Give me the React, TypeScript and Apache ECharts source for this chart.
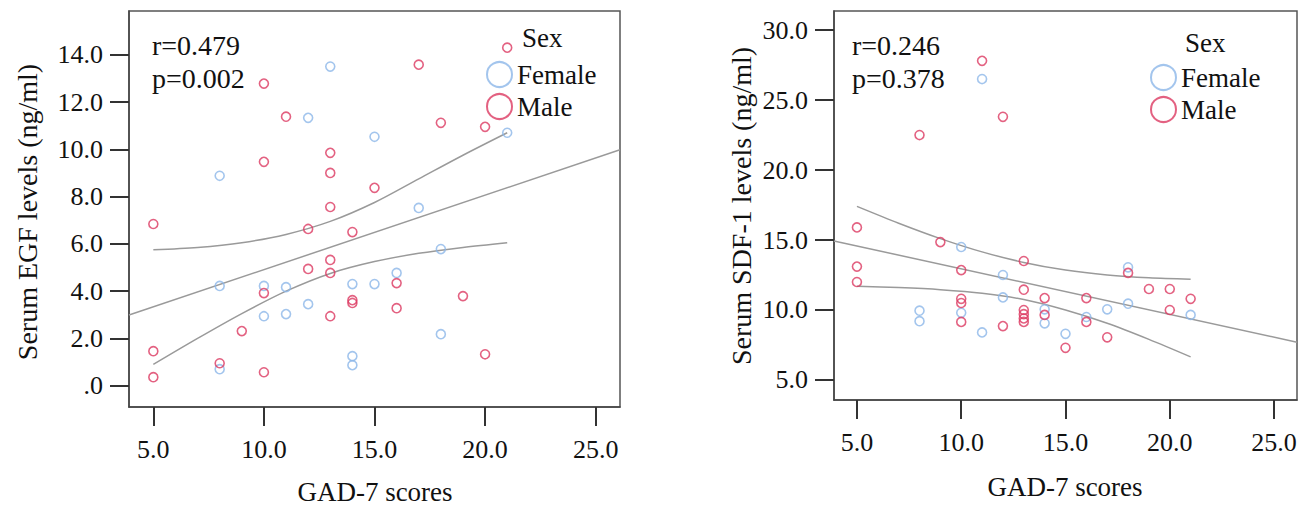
import React, { useEffect, useRef } from "react";
import * as echarts from "echarts";

// ---------- data ----------
const xTicks = [5, 10, 15, 20, 25];
const egfTicks = [0, 2, 4, 6, 8, 10, 12, 14];
const sdfTicks = [5, 10, 15, 20, 25, 30];

const egfFemale = [
  [8, 8.88], [8, 4.22], [8, 0.7], [10, 4.22], [10, 2.94], [11, 4.17], [11, 3.03],
  [12, 11.33], [12, 3.45], [13, 13.5], [14, 4.3], [14, 1.25], [14, 0.87],
  [15, 10.53], [15, 4.3], [16, 4.77], [17, 7.52], [18, 5.78], [18, 2.18], [21, 10.7],
];
const egfMale = [
  [5, 6.84], [5, 1.46], [5, 0.36], [8, 0.95], [9, 2.31], [10, 12.78], [10, 9.47],
  [10, 3.92], [10, 0.57], [11, 11.38], [12, 6.63], [12, 4.94], [13, 9.85], [13, 9.0],
  [13, 7.56], [13, 5.32], [13, 4.77], [13, 2.94], [14, 6.5], [14, 3.62], [14, 3.5],
  [15, 8.37], [16, 4.34], [16, 3.28], [17, 13.58], [18, 11.12], [19, 3.79],
  [20, 10.95], [20, 1.33], [21, 14.3],
];
const egfFit = [[3.9, 2.99], [26.1, 9.98]];
const egfUpper = [[5, 5.75], [7, 5.85], [9, 6.05], [11, 6.4], [13, 6.95], [15, 7.75], [17, 8.75], [19, 9.75], [21, 10.7]];
const egfLower = [[5, 0.9], [7, 2.0], [9, 3.05], [11, 4.0], [13, 4.75], [15, 5.25], [17, 5.6], [19, 5.85], [21, 6.05]];

const sdfFemale = [
  [8, 9.95], [8, 9.2], [10, 14.5], [10, 9.8], [11, 26.5], [11, 8.4], [12, 12.5],
  [12, 10.9], [14, 10.05], [14, 9.05], [15, 8.3], [16, 9.5], [17, 10.05], [18, 13.05],
  [18, 10.45], [21, 9.65],
];
const sdfMale = [
  [5, 15.9], [5, 13.1], [5, 12.0], [8, 22.5], [9, 14.85], [10, 12.85], [10, 10.8],
  [10, 10.5], [10, 9.15], [11, 27.8], [12, 23.8], [12, 8.85], [13, 13.5], [13, 11.45],
  [13, 10.0], [13, 9.7], [13, 9.4], [13, 9.15], [14, 10.85], [14, 9.65], [15, 7.3],
  [16, 10.85], [16, 9.15], [17, 8.05], [18, 12.65], [19, 11.5], [20, 11.5], [20, 10.0],
  [21, 10.8],
];
const sdfFit = [[3.9, 14.93], [26.1, 7.7]];
const sdfUpper = [[5, 17.4], [7, 16.2], [9, 15.1], [11, 14.15], [13, 13.4], [15, 12.85], [17, 12.5], [19, 12.3], [21, 12.2]];
const sdfLower = [[5, 11.7], [7, 11.6], [9, 11.45], [11, 11.2], [13, 10.75], [15, 10.0], [17, 9.05], [19, 7.9], [21, 6.65]];

const stats = [
  ["r=0.479", "p=0.002"],
  ["r=0.246", "p=0.378"],
];
const yTitles = ["Serum EGF levels (ng/ml)", "Serum SDF-1 levels (ng/ml)"];
const xTitle = "GAD-7 scores";
const legendTitle = "Sex";
const sexes = ["Female", "Male"];

// ---------- style ----------
const FONT = "'Liberation Serif', 'Times New Roman', serif";
const BLUE = "#8cb6e9";
const RED = "#dc3a62";
const LINE = "#9a9a9a";

function axisX(gridIndex: number, margin: number) {
  return {
    gridIndex,
    type: "value",
    min: 3.9,
    max: 26.1,
    splitLine: { show: false },
    axisLine: { onZero: false, lineStyle: { color: "#444", width: 1.5 } },
    axisTick: { customValues: xTicks, length: 19, lineStyle: { color: "#333", width: 2 } },
    axisLabel: {
      customValues: xTicks,
      formatter: (v: number) => v.toFixed(1),
      fontSize: 26,
      color: "#111",
      fontFamily: FONT,
      margin,
    },
  };
}

function axisY(gridIndex: number, min: number, max: number, ticks: number[]) {
  return {
    gridIndex,
    type: "value",
    min,
    max,
    splitLine: { show: false },
    axisLine: { onZero: false, lineStyle: { color: "#444", width: 1.5 } },
    axisTick: { customValues: ticks, length: 19, lineStyle: { color: "#333", width: 2 } },
    axisLabel: {
      customValues: ticks,
      formatter: (v: number) => (v === 0 ? ".0" : v.toFixed(1)),
      fontSize: 26,
      color: "#111",
      fontFamily: FONT,
      margin: 26,
    },
  };
}

function scatter(name: string, idx: number, data: number[][], color: string) {
  return {
    name,
    type: "scatter",
    xAxisIndex: idx,
    yAxisIndex: idx,
    data,
    symbol: "circle",
    symbolSize: 9,
    itemStyle: { color: "rgba(255,255,255,0)", borderColor: color, borderWidth: 1.6 },
    z: 3,
  };
}

function line(idx: number, data: number[][], smooth: boolean) {
  return {
    name: "fit",
    type: "line",
    xAxisIndex: idx,
    yAxisIndex: idx,
    data,
    smooth: smooth ? 0.3 : false,
    showSymbol: false,
    symbol: "none",
    lineStyle: { color: LINE, width: 1.5 },
    silent: true,
    z: 2,
  };
}

function legend(left: number, top: number) {
  return {
    orient: "vertical",
    left,
    top,
    padding: 0,
    icon: "circle",
    itemWidth: 25,
    itemHeight: 25,
    itemGap: 5,
    selectedMode: false,
    textStyle: { fontSize: 27, color: "#111", fontFamily: FONT },
    data: [
      { name: sexes[0], itemStyle: { color: "#fff", borderColor: BLUE, borderWidth: 2 } },
      { name: sexes[1], itemStyle: { color: "#fff", borderColor: RED, borderWidth: 2 } },
    ],
  };
}

function txt(text: string, x: number, y: number, size: number, extra: any = {}) {
  return {
    type: "text",
    x,
    y,
    silent: true,
    style: {
      text,
      fontSize: size,
      fontFamily: FONT,
      fill: "#111",
      textAlign: "left",
      textVerticalAlign: "middle",
      ...extra,
    },
  };
}

export default function App() {
  const ref = useRef<HTMLDivElement>(null);
  useEffect(() => {
    if (!ref.current) return;
    const chart = echarts.init(ref.current, undefined, { renderer: "svg" });
    const option: any = {
      animation: false,
      backgroundColor: "#fff",
      textStyle: { fontFamily: FONT },
      grid: [
        { left: 129, top: 11, width: 491, height: 396, show: true, borderColor: "#555", borderWidth: 1.5, containLabel: false },
        { left: 834, top: 11, width: 463, height: 389, show: true, borderColor: "#555", borderWidth: 1.5, containLabel: false },
      ],
      xAxis: [axisX(0, 29), axisX(1, 29)],
      yAxis: [axisY(0, -0.9, 15.85, egfTicks), axisY(1, 3.57, 31.36, sdfTicks)],
      legend: [legend(486, 61), legend(1150, 64)],
      series: [
        line(0, egfFit, false),
        line(0, egfUpper, true),
        line(0, egfLower, true),
        scatter(sexes[0], 0, egfFemale, BLUE),
        scatter(sexes[1], 0, egfMale, RED),
        line(1, sdfFit, false),
        line(1, sdfUpper, true),
        line(1, sdfLower, true),
        scatter(sexes[0], 1, sdfFemale, BLUE),
        scatter(sexes[1], 1, sdfMale, RED),
      ],
      graphic: [
        txt(stats[0][0], 152, 45, 28),
        txt(stats[0][1], 152, 78, 28),
        txt(stats[1][0], 852, 45, 28),
        txt(stats[1][1], 852, 78, 28),
        txt(legendTitle, 522, 38, 27),
        txt(legendTitle, 1185, 43, 27),
        txt(xTitle, 375, 492, 27, { textAlign: "center" }),
        txt(xTitle, 1065, 487, 27, { textAlign: "center" }),
        { ...txt(yTitles[0], 27, 212, 28, { textAlign: "center" }), rotation: Math.PI / 2 },
        { ...txt(yTitles[1], 741, 206, 28, { textAlign: "center" }), rotation: Math.PI / 2 },
      ],
    };
    chart.setOption(option);
    return () => chart.dispose();
  }, []);
  return (
    <div
      ref={ref}
      style={{ position: "fixed", left: 0, top: 0, width: 1313, height: 508, background: "#fff" }}
    />
  );
}
